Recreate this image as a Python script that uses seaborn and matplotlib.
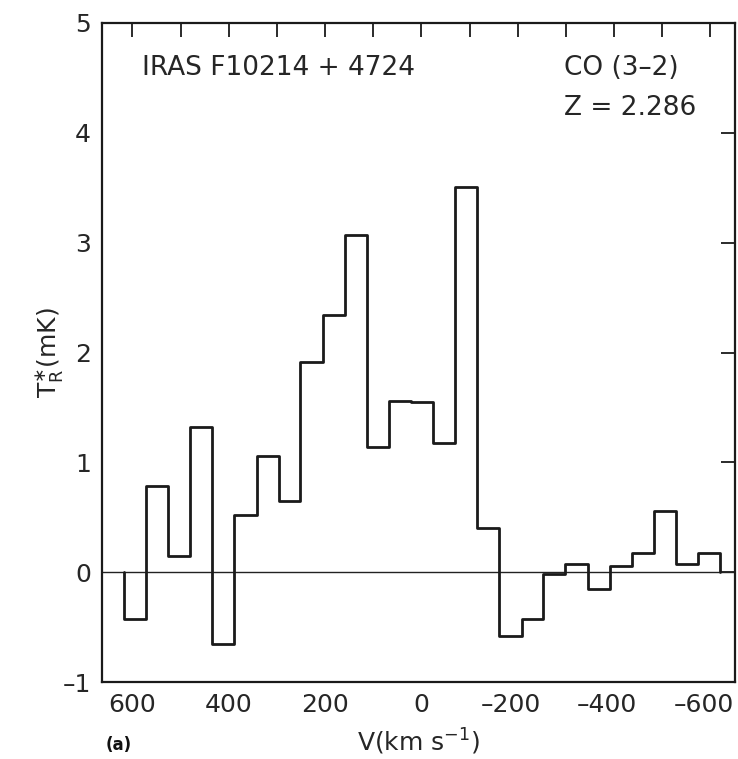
import numpy as np
import pandas as pd
import matplotlib
matplotlib.use("Agg")
import matplotlib.pyplot as plt
from matplotlib.ticker import MultipleLocator
from matplotlib.transforms import ScaledTranslation
import seaborn as sns

# ---- data ----
v_edges = [617, 571, 525, 480, 434, 388, 342, 296, 251, 205, 159, 113, 67, 21,
           -24, -70, -116, -162, -208, -253, -299, -345, -391, -437, -482, -528,
           -574, -620]
tr_mk = [-0.43, 0.78, 0.15, 1.32, -0.65, 0.52, 1.06, 0.65, 1.91, 2.34, 3.07,
         1.14, 1.56, 1.55, 1.18, 3.51, 0.40, -0.58, -0.43, -0.02, 0.07, -0.15,
         0.06, 0.17, 0.56, 0.07, 0.17]
x_major = [600, 400, 200, 0, -200, -400, -600]
x_labels = ["600", "400", "200", "0", "\u2013200", "\u2013400", "\u2013600"]
y_ticks = [-1, 0, 1, 2, 3, 4, 5]
y_labels = ["\u20131", "0", "1", "2", "3", "4", "5"]
source_name = "IRAS F10214 + 4724"
line_name = "CO (3\u20132)"
redshift = "Z = 2.286"

sns.set_style("white")
plt.rcParams["font.family"] = ["DejaVu Sans"]
plt.rcParams["mathtext.fontset"] = "dejavusans"

# step outline table built from the arrays (drops to baseline at both ends)
edges = np.asarray(v_edges, dtype=float)
vals = np.asarray(tr_mk, dtype=float)
step_df = pd.DataFrame({
    "v": np.repeat(edges, 2),
    "t": np.concatenate([[0.0], np.repeat(vals, 2), [0.0]]),
})

txt_col = "#262626"
fig = plt.figure(figsize=(7.38, 7.59), dpi=100)
ax = fig.add_axes([102 / 738, 1 - 682 / 759, (735 - 102) / 738, (682 - 23) / 759])

ax.axhline(0, color="#222222", lw=1.0, zorder=1)
sns.lineplot(data=step_df, x="v", y="t", sort=False, estimator=None,
             color="#1a1a1a", lw=2.0, ax=ax, zorder=2)

ax.set_xlim(663, -651)
ax.set_ylim(-1, 5)
ax.set_xticks(x_major)
ax.set_xticklabels(x_labels)
ax.xaxis.set_minor_locator(MultipleLocator(100))
ax.set_yticks(y_ticks)
ax.set_yticklabels(y_labels)

for s in ax.spines.values():
    s.set_linewidth(1.6)
    s.set_color("#1a1a1a")

ax.tick_params(axis="both", which="both", direction="in", top=True, right=True,
               length=10, width=1.3, color="#1a1a1a", labelsize=18, pad=8,
               labelcolor=txt_col)

# digits centred on the tick, minus sign hanging to the left
for lab, val in zip(ax.get_xticklabels(), x_major):
    if val < 0:
        lab.set_transform(lab.get_transform() +
                          ScaledTranslation(-7 / 100, 0, fig.dpi_scale_trans))

ax.set_xlabel("V(km s$^{-1}$)", fontsize=18, color=txt_col)
ax.xaxis.set_label_coords(0.5, -0.068)
ax.set_ylabel(r"T$_{\mathrm{R}}^{\ast}$(mK)", fontsize=18, color=txt_col)
ax.yaxis.set_label_coords(-0.058, 0.5)

ax.text(0.063, 0.932, source_name, transform=ax.transAxes, fontsize=19,
        ha="left", va="center", color=txt_col)
ax.text(0.73, 0.932, line_name, transform=ax.transAxes, fontsize=19,
        ha="left", va="center", color=txt_col)
ax.text(0.73, 0.871, redshift, transform=ax.transAxes, fontsize=19,
        ha="left", va="center", color=txt_col)

fig.text(106 / 738, 1 - 745 / 759, "(a)", fontsize=12, fontweight="bold",
         ha="left", va="center", color="#111111")

fig.savefig("out.png", dpi=100, facecolor="white")
